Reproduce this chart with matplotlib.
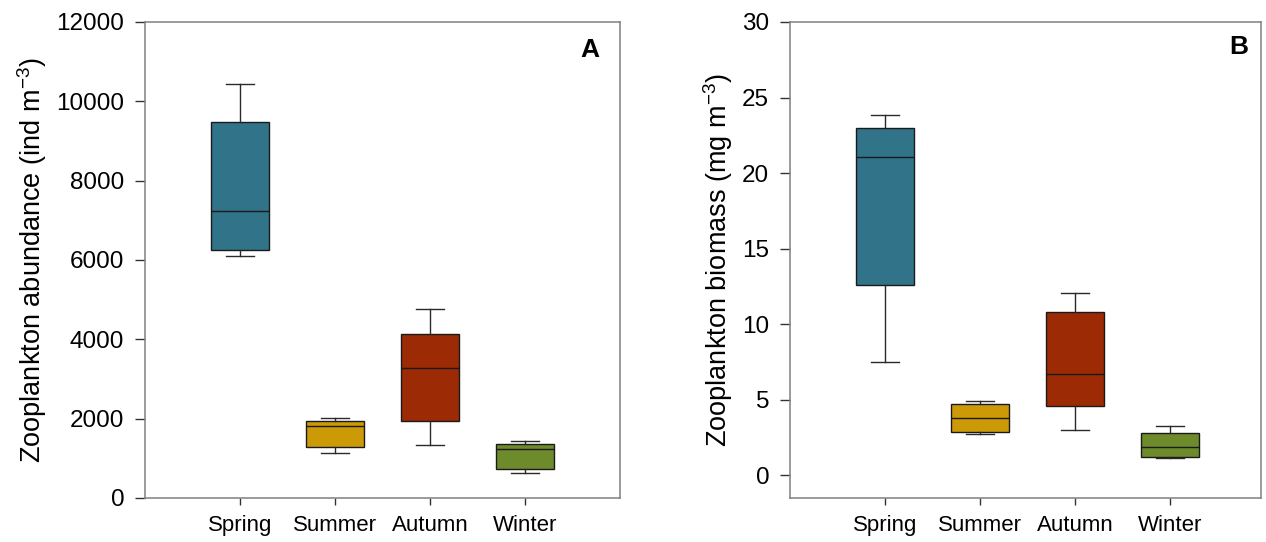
import numpy as np
import matplotlib.pyplot as plt

plt.rcParams['font.family'] = ['Liberation Sans', 'DejaVu Sans']

seasons = ['Spring', 'Summer', 'Autumn', 'Winter']
colors = ['#317389', '#cc9a06', '#9c2a04', '#6e8b2c']

# abundance (ind m-3): whislo, q1, median, q3, whishi
abund_lo = [6110, 1135, 1335, 620]
abund_q1 = [6260, 1295, 1940, 725]
abund_med = [7230, 1805, 3270, 1235]
abund_q3 = [9470, 1950, 4145, 1360]
abund_hi = [10440, 2025, 4755, 1425]

# biomass (mg m-3)
biom_lo = [7.5, 2.75, 3.0, 1.1]
biom_q1 = [12.6, 2.83, 4.57, 1.17]
biom_med = [21.05, 3.75, 6.67, 1.83]
biom_q3 = [23.0, 4.72, 10.77, 2.76]
biom_hi = [23.85, 4.92, 12.03, 3.27]


def make_stats(lo, q1, med, q3, hi):
    stats = []
    for i in range(len(lo)):
        stats.append({'whislo': lo[i], 'q1': q1[i], 'med': med[i],
                      'q3': q3[i], 'whishi': hi[i], 'fliers': []})
    return stats


def draw_panel(ax, stats, ylabel, letter, lx, ly):
    pos = np.arange(1, len(seasons) + 1)
    bp = ax.bxp(stats, positions=pos, widths=0.61, patch_artist=True,
                showfliers=False,
                boxprops=dict(linewidth=1.0, edgecolor='#1a1a1a'),
                medianprops=dict(color='#1a1a1a', linewidth=1.0),
                whiskerprops=dict(color='#2a2a2a', linewidth=1.0),
                capprops=dict(color='#2a2a2a', linewidth=1.0),
                capwidths=0.29)
    for patch, c in zip(bp['boxes'], colors):
        patch.set_facecolor(c)
    ax.set_xticks(pos)
    ax.set_xticklabels(seasons, fontsize=16)
    ax.set_ylabel(ylabel, fontsize=19.5, labelpad=5)
    for s in ax.spines.values():
        s.set_color('#808080')
        s.set_linewidth(1.1)
    ax.tick_params(axis='y', direction='out', length=7, width=1.0,
                   color='#333333', labelsize=17.5, pad=8)
    ax.tick_params(axis='x', direction='out', length=5, width=1.0,
                   color='#333333', pad=7)
    ax.text(lx, ly, letter, transform=ax.transAxes, fontsize=19,
            fontweight='bold', ha='center', va='center')


fig = plt.figure(figsize=(12.66, 5.42), dpi=100)
ax1 = fig.add_axes([145 / 1266, 44 / 542, 475 / 1266, 476 / 542])
ax2 = fig.add_axes([790 / 1266, 44 / 542, 471 / 1266, 476 / 542])

draw_panel(ax1, make_stats(abund_lo, abund_q1, abund_med, abund_q3, abund_hi),
           'Zooplankton abundance (ind m$^{\\mathregular{-3}}$)', 'A', 0.937, 0.941)
ax1.set_xlim(0, 5)
ax1.set_ylim(0, 12000)
ax1.set_yticks(np.arange(0, 12001, 2000))

draw_panel(ax2, make_stats(biom_lo, biom_q1, biom_med, biom_q3, biom_hi),
           'Zooplankton biomass (mg m$^{\\mathregular{-3}}$)', 'B', 0.953, 0.947)
ax2.set_xlim(0, 471 / 95)
ax2.set_ylim(-1.52, 30)
ax2.set_yticks(np.arange(0, 31, 5))

fig.savefig('out.png', dpi=100)
